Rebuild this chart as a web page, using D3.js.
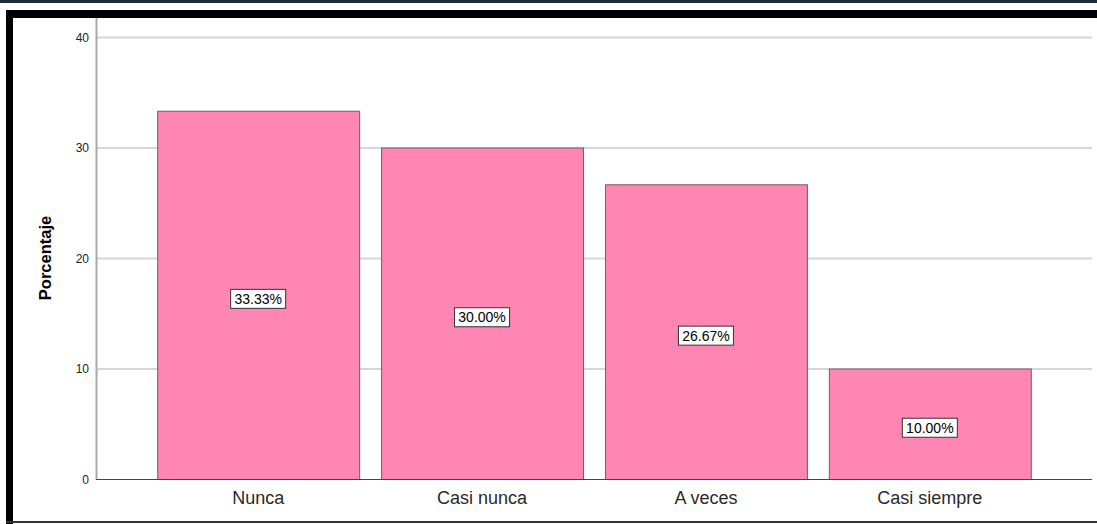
<!DOCTYPE html>
<html>
<head>
<meta charset="utf-8">
<script src="https://cdn.jsdelivr.net/npm/d3@7"></script>
<style>
  body { margin: 0; background: #fff; }
  svg { display: block; font-family: "Liberation Sans", Arial, sans-serif; }
</style>
</head>
<body>
<svg id="chart" width="1097" height="524"></svg>
<script>
// data
var categories = ["Nunca", "Casi nunca", "A veces", "Casi siempre"];
var values = [33.33, 30.00, 26.67, 10.00];
var labels = ["33.33%", "30.00%", "26.67%", "10.00%"];
var yTicks = [0, 10, 20, 30, 40];

var svg = d3.select("#chart");

// frame: navy strip, black top bar, left border, bottom line
svg.append("rect").attr("x", 0).attr("y", 0).attr("width", 1097).attr("height", 3).attr("fill", "#1b2b3a");
svg.append("rect").attr("x", 6).attr("y", 10).attr("width", 1091).attr("height", 8).attr("fill", "#000");
svg.append("rect").attr("x", 6).attr("y", 10).attr("width", 7).attr("height", 514).attr("fill", "#000");
svg.append("rect").attr("x", 6).attr("y", 521).attr("width", 1091).attr("height", 2).attr("fill", "#333");

var plotLeft = 96, plotRight = 1092;

var x = d3.scaleBand()
    .domain(categories)
    .range([146, 1042])
    .paddingInner(0.098)
    .paddingOuter(0.05);

var y = d3.scaleLinear()
    .domain([0, 40])
    .range([479, 37]);

// gridlines
svg.selectAll(".grid")
  .data(yTicks.filter(d => d > 0))
  .enter().append("line")
    .attr("x1", plotLeft).attr("x2", plotRight)
    .attr("y1", d => y(d) + 0.5).attr("y2", d => y(d) + 0.5)
    .attr("stroke", "#d6d6d6")
    .attr("stroke-width", 2);

// bars
svg.selectAll(".bar")
  .data(values)
  .enter().append("rect")
    .attr("x", (d, i) => x(categories[i]) + 0.5)
    .attr("y", d => y(d) + 0.5)
    .attr("width", x.bandwidth())
    .attr("height", d => y(0) - y(d))
    .attr("fill", "#ff85b3")
    .attr("stroke", "#7a5a68")
    .attr("stroke-width", 1);

// y axis line
svg.append("line")
  .attr("x1", plotLeft + 0.5).attr("x2", plotLeft + 0.5)
  .attr("y1", 18).attr("y2", y(0) + 1)
  .attr("stroke", "#aaa").attr("stroke-width", 2);

// x axis baseline
svg.append("line")
  .attr("x1", plotLeft).attr("x2", plotRight)
  .attr("y1", y(0) + 0.5).attr("y2", y(0) + 0.5)
  .attr("stroke", "#444").attr("stroke-width", 1);

// y tick labels
svg.selectAll(".ytick")
  .data(yTicks)
  .enter().append("text")
    .attr("x", 89)
    .attr("y", d => y(d) + 4.5)
    .attr("text-anchor", "end")
    .attr("font-size", 12)
    .attr("fill", "#222")
    .text(d => d);

// y axis title
svg.append("text")
  .attr("transform", "translate(51," + ((y(0) + y(40)) / 2) + ") rotate(-90)")
  .attr("text-anchor", "middle")
  .attr("font-size", 16.5)
  .attr("font-weight", "bold")
  .attr("fill", "#000")
  .text("Porcentaje");

// x category labels
svg.selectAll(".xlab")
  .data(categories)
  .enter().append("text")
    .attr("x", d => x(d) + x.bandwidth() / 2)
    .attr("y", 504)
    .attr("text-anchor", "middle")
    .attr("font-size", 18)
    .attr("fill", "#2a2a2a")
    .text(d => d);

// boxed value labels
var lab = svg.selectAll(".vlab")
  .data(values)
  .enter().append("g")
    .attr("transform", (d, i) => "translate(" + (x(categories[i]) + x.bandwidth() / 2) + "," + (y(d / 2) + 4) + ")");

lab.append("rect")
  .attr("x", -27.5).attr("y", -9.5)
  .attr("width", 55).attr("height", 19)
  .attr("fill", "#fff")
  .attr("stroke", "#333")
  .attr("stroke-width", 1);

lab.append("text")
  .attr("y", 5)
  .attr("text-anchor", "middle")
  .attr("font-size", 14)
  .attr("fill", "#000")
  .text((d, i) => labels[i]);
</script>
</body>
</html>
